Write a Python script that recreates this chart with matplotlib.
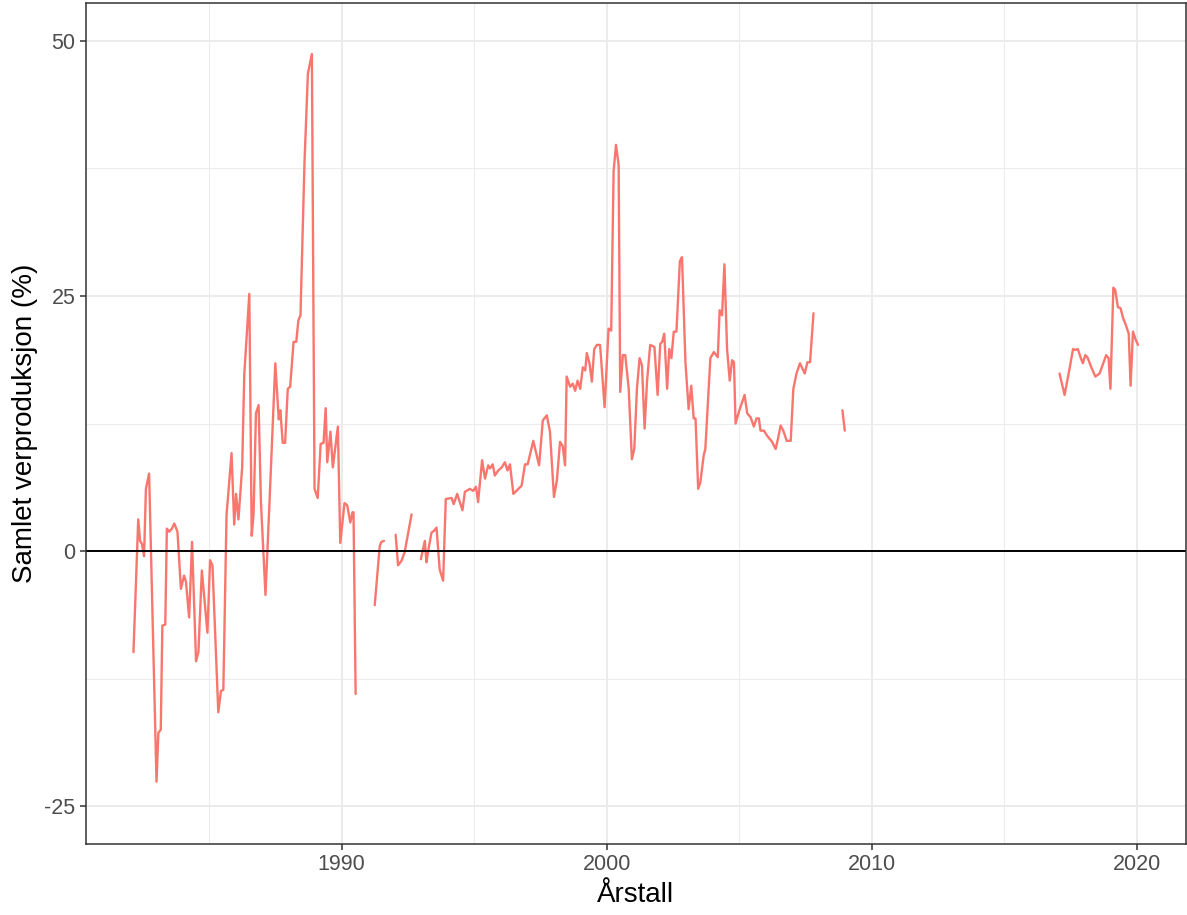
import numpy as np
import matplotlib
matplotlib.use("Agg")
import matplotlib.pyplot as plt

# Total overproduction (%) by year; gaps in the record split the series into segments
seg1_year = [1982.15, 1982.33, 1982.40, 1982.47, 1982.55, 1982.62, 1982.74, 1983.02, 1983.09,
             1983.18, 1983.24, 1983.35, 1983.41, 1983.50, 1983.60, 1983.69, 1983.81, 1983.94,
             1984.06, 1984.13, 1984.25, 1984.36, 1984.51, 1984.60, 1984.73, 1984.94, 1985.04,
             1985.13, 1985.35, 1985.45, 1985.54, 1985.66, 1985.85, 1985.95, 1986.02, 1986.11,
             1986.25, 1986.33, 1986.52, 1986.61, 1986.68, 1986.77, 1986.87, 1986.96, 1987.13,
             1987.28, 1987.50, 1987.63, 1987.69, 1987.78, 1987.87, 1987.97, 1988.06, 1988.19,
             1988.29, 1988.37, 1988.45, 1988.60, 1988.73, 1988.88, 1988.98, 1989.10, 1989.21,
             1989.32, 1989.40, 1989.46, 1989.58, 1989.67, 1989.86, 1989.95, 1990.11, 1990.21,
             1990.33, 1990.41, 1990.45, 1990.53]
seg1_value = [-9.9, 3.1, 1.0, 0.7, -0.5, 6.1, 7.6, -22.6, -17.8,
              -17.5, -7.3, -7.2, 2.2, 1.9, 2.2, 2.7, 1.9, -3.7,
              -2.4, -3.0, -6.5, 0.9, -10.8, -9.9, -1.9, -8.0, -0.9,
              -1.4, -15.8, -13.7, -13.6, 3.5, 9.6, 2.6, 5.6, 3.1,
              8.2, 17.3, 25.2, 1.5, 3.6, 13.5, 14.3, 4.7, -4.3,
              4.7, 18.4, 12.9, 13.8, 10.6, 10.6, 15.9, 16.1, 20.5,
              20.5, 22.6, 23.1, 38.0, 46.8, 48.7, 6.1, 5.2, 10.5,
              10.6, 14.0, 8.7, 11.7, 8.2, 12.2, 0.8, 4.7, 4.5,
              2.8, 3.8, 3.8, -14.0]

seg2_year = [1991.25, 1991.44, 1991.50, 1991.60]
seg2_value = [-5.3, 0.5, 0.9, 1.0]

seg3_year = [1992.04, 1992.13, 1992.26, 1992.38, 1992.64]
seg3_value = [1.6, -1.4, -0.95, -0.1, 3.6]

seg4_year = [1992.99, 1993.14, 1993.20, 1993.26, 1993.39, 1993.49, 1993.58, 1993.70, 1993.83,
             1993.93, 1994.15, 1994.23, 1994.36, 1994.56, 1994.65, 1994.84, 1994.96, 1995.07,
             1995.15, 1995.30, 1995.41, 1995.53, 1995.60, 1995.70, 1995.78, 1995.91, 1996.04,
             1996.16, 1996.26, 1996.35, 1996.48, 1996.67, 1996.79, 1996.92, 1997.02, 1997.23,
             1997.45, 1997.59, 1997.74, 1997.86, 1998.01, 1998.12, 1998.24, 1998.34, 1998.43,
             1998.49, 1998.62, 1998.72, 1998.81, 1998.90, 1999.00, 1999.10, 1999.19, 1999.25,
             1999.35, 1999.44, 1999.53, 1999.63, 1999.75, 1999.92, 2000.07, 2000.17, 2000.26,
             2000.35, 2000.45, 2000.51, 2000.61, 2000.70, 2000.83, 2000.95, 2001.04, 2001.14,
             2001.24, 2001.33, 2001.43, 2001.52, 2001.64, 2001.80, 2001.92, 2002.02, 2002.09,
             2002.17, 2002.28, 2002.36, 2002.44, 2002.53, 2002.63, 2002.76, 2002.84, 2002.97,
             2003.09, 2003.19, 2003.28, 2003.35, 2003.45, 2003.53, 2003.66, 2003.72, 2003.91,
             2004.04, 2004.19, 2004.26, 2004.35, 2004.44, 2004.54, 2004.64, 2004.73, 2004.80,
             2004.86, 2004.98, 2005.20, 2005.30, 2005.43, 2005.55, 2005.65, 2005.74, 2005.80,
             2005.93, 2006.05, 2006.24, 2006.37, 2006.46, 2006.56, 2006.66, 2006.79, 2006.94,
             2007.04, 2007.16, 2007.29, 2007.38, 2007.47, 2007.57, 2007.67, 2007.80]
seg4_value = [-0.8, 1.0, -1.1, -0.1, 1.8, 2.0, 2.3, -1.8, -2.9,
              5.1, 5.2, 4.6, 5.6, 4.0, 5.8, 6.1, 5.9, 6.3,
              4.8, 8.9, 7.1, 8.4, 8.1, 8.5, 7.4, 7.9, 8.2,
              8.7, 7.9, 8.5, 5.6, 6.1, 6.4, 8.5, 8.5, 10.8,
              8.4, 12.8, 13.3, 11.7, 5.3, 6.9, 10.7, 10.3, 8.4,
              17.1, 16.1, 16.4, 15.7, 16.7, 15.9, 18.0, 17.7, 19.4,
              18.4, 16.6, 19.8, 20.2, 20.2, 14.1, 21.8, 21.6, 37.2,
              39.8, 37.8, 15.6, 19.2, 19.2, 15.9, 9.0, 10.0, 15.9,
              18.9, 18.2, 12.0, 16.6, 20.2, 20.0, 15.3, 20.3, 20.5,
              21.3, 15.9, 19.8, 18.9, 21.5, 21.5, 28.4, 28.8, 18.5,
              13.9, 16.2, 13.0, 13.0, 6.1, 6.7, 9.4, 10.0, 18.9,
              19.5, 19.0, 23.6, 23.1, 28.1, 19.8, 16.7, 18.7, 18.5,
              12.5, 13.6, 15.3, 13.5, 13.1, 12.2, 13.0, 13.0, 11.8,
              11.8, 11.3, 10.7, 10.0, 11.0, 12.3, 11.8, 10.8, 10.8,
              15.9, 17.4, 18.4, 17.9, 17.4, 18.5, 18.5, 23.3]

seg5_year = [2008.89, 2008.98]
seg5_value = [13.8, 11.8]

seg6_year = [2017.08, 2017.27, 2017.46, 2017.59, 2017.67, 2017.77, 2017.87, 2017.96, 2018.05,
             2018.13, 2018.28, 2018.43, 2018.59, 2018.84, 2018.93, 2019.00, 2019.11, 2019.18,
             2019.28, 2019.38, 2019.48, 2019.56, 2019.69, 2019.76, 2019.85, 2019.94, 2020.04]
seg6_value = [17.4, 15.3, 17.9, 19.8, 19.7, 19.8, 19.0, 18.4, 19.2,
              19.0, 18.0, 17.1, 17.4, 19.2, 18.9, 15.9, 25.8, 25.6,
              23.9, 23.8, 22.8, 22.3, 21.3, 16.2, 21.5, 20.8, 20.2]

segments = [(seg1_year, seg1_value), (seg2_year, seg2_value), (seg3_year, seg3_value),
            (seg4_year, seg4_value), (seg5_year, seg5_value), (seg6_year, seg6_value)]

x_ticks = [1990, 2000, 2010, 2020]
y_ticks = [-25, 0, 25, 50]

plt.rcParams['font.family'] = ['Liberation Sans', 'DejaVu Sans']
plt.rcParams['axes.unicode_minus'] = False

fig = plt.figure(figsize=(11.87, 9.15), dpi=100)
ax = fig.add_axes([86 / 1187, 1 - 844 / 915, (1186 - 86) / 1187, (844 - 3) / 915])

ax.set_xlim(1980.36, 2021.85)
ax.set_ylim(-28.7, 53.7)

ax.set_xticks(x_ticks)
ax.set_yticks(y_ticks)
ax.set_xticks([1985, 1995, 2005, 2015], minor=True)
ax.set_yticks([-12.5, 12.5, 37.5], minor=True)
ax.grid(which='major', color='#EBEBEB', linewidth=1.4)
ax.grid(which='minor', color='#EBEBEB', linewidth=0.75)
ax.set_axisbelow(True)

for yr, val in segments:
    ax.plot(yr, val, color='#F8766D', linewidth=1.7, solid_joinstyle='round',
            solid_capstyle='round', zorder=3)

ax.axhline(0, color='black', linewidth=1.4, zorder=4)

for sp in ax.spines.values():
    sp.set_color('#333333')
    sp.set_linewidth(1.1)
    sp.set_zorder(5)

ax.tick_params(which='major', length=4.5, width=1.1, color='#333333',
               labelsize=15.5, labelcolor='#4D4D4D', pad=3)
ax.tick_params(which='minor', length=0)

ax.set_xlabel('Årstall', fontsize=20, color='black', labelpad=5)
ax.set_ylabel('Samlet verproduksjon (%)', fontsize=20, color='black', labelpad=5)

fig.savefig('out.png', dpi=100)
